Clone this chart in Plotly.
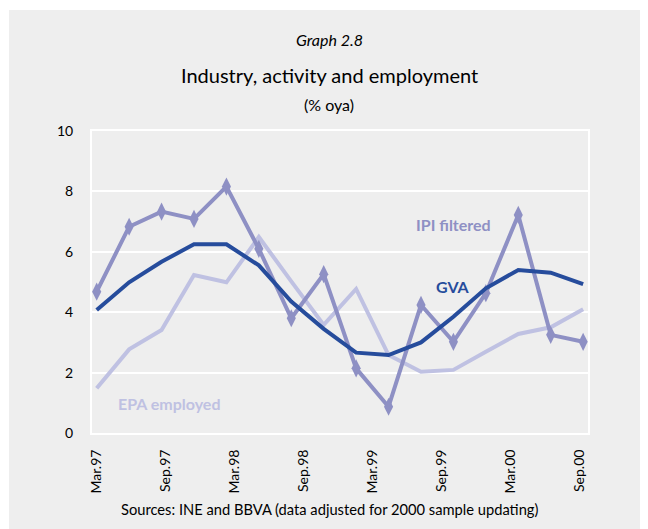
import plotly.graph_objects as go

quarters = ["Mar.97", "Jun.97", "Sep.97", "Dec.97", "Mar.98", "Jun.98", "Sep.98", "Dec.98",
            "Mar.99", "Jun.99", "Sep.99", "Dec.99", "Mar.00", "Jun.00", "Sep.00", "Dec.00"]
ipi_filtered = [4.68, 6.83, 7.33, 7.09, 8.16, 6.10, 3.80, 5.26, 2.14, 0.87, 4.24, 3.02, 4.63, 7.22, 3.25, 3.02]
gva = [4.07, 4.99, 5.67, 6.25, 6.25, 5.55, 4.35, 3.45, 2.66, 2.58, 3.00, 3.85, 4.79, 5.40, 5.31, 4.93]
epa_employed = [1.48, 2.77, 3.41, 5.23, 4.99, 6.49, 5.02, 3.58, 4.77, 2.58, 2.03, 2.09, 2.69, 3.28, 3.50, 4.10]
tick_labels = ["Mar.97", "Sep.97", "Mar.98", "Sep.98", "Mar.99", "Sep.99", "Mar.00", "Sep.00"]
y_ticks = [0, 2, 4, 6, 8, 10]

FONT = "Lato, 'Noto Sans', sans-serif"
C_IPI = "#8E90C4"
C_GVA = "#264C9C"
C_EPA = "#BFC1E2"
BG = "#EEEEEE"

x = list(range(len(quarters)))
step = (len(quarters) - 1.1) / (len(tick_labels) - 1)
tickvals = [i * step for i in range(len(tick_labels))]

fig = go.Figure()
fig.add_trace(go.Scatter(x=x, y=epa_employed, mode="lines", line=dict(color=C_EPA, width=4),
                         name="EPA employed", hovertext=quarters))
fig.add_trace(go.Scatter(x=x, y=ipi_filtered, mode="lines+markers", line=dict(color=C_IPI, width=4),
                         marker=dict(symbol="diamond-tall", size=13, color=C_IPI),
                         name="IPI filtered", hovertext=quarters))
fig.add_trace(go.Scatter(x=x, y=gva, mode="lines", line=dict(color=C_GVA, width=4),
                         name="GVA", hovertext=quarters))

# figure is placed at (8, 8) inside the page by the default body margin
W, H = 640, 521
L, R, T, B = 84, 60, 123, 96
pw, ph = W - L - R, H - T - B
OFF = 8


def px(xw):
    return (xw - OFF - L) / pw


def py(yw):
    return (H - B - (yw - OFF)) / ph


fig.add_shape(type="rect", xref="paper", yref="paper",
              x0=px(9), x1=px(OFF + W + 5), y0=py(OFF + H + 5), y1=py(10),
              fillcolor=BG, line=dict(width=0), layer="below")

fig.update_layout(
    width=W, height=H,
    margin=dict(l=L, r=R, t=T, b=B),
    paper_bgcolor="white", plot_bgcolor=BG,
    showlegend=False,
    font=dict(family=FONT, color="black", size=13),
    xaxis=dict(range=[-0.145, 15.15], tickvals=tickvals, ticktext=tick_labels, tickangle=-90,
               showgrid=False, zeroline=False, showline=True, linecolor="white", linewidth=2,
               mirror=True, ticks="", ticklabelstandoff=9,
               tickfont=dict(family=FONT, size=14, color="black")),
    yaxis=dict(range=[0, 10], tickvals=y_ticks, showgrid=True, gridcolor="white", gridwidth=2,
               zeroline=False, showline=True, linecolor="white", linewidth=2, mirror=True,
               ticks="", ticklabelstandoff=14,
               tickfont=dict(family=FONT, size=14, color="black")),
)

anns = [
    dict(text="<i>Graph 2.8</i>", x=px(329), y=py(40), size=16, color="black"),
    dict(text="Industry, activity and employment", x=px(329), y=py(75), size=20, color="black"),
    dict(text="(% oya)", x=px(329), y=py(104), size=16, color="black"),
    dict(text="Sources: INE and BBVA (data adjusted for 2000 sample updating)", x=px(329), y=py(509),
         size=14.7, color="black"),
]
for a in anns:
    fig.add_annotation(text=a["text"], x=a["x"], y=a["y"], xref="paper", yref="paper",
                       showarrow=False, xanchor="center", yanchor="middle",
                       font=dict(family=FONT, size=a["size"], color=a["color"]))

labels = [
    ("<b>IPI filtered</b>", 10.99, 6.92, C_IPI),
    ("<b>GVA</b>", 11.0, 4.84, C_GVA),
    ("<b>EPA employed</b>", 2.23, 0.98, C_EPA),
]
for t, lx, ly, c in labels:
    fig.add_annotation(text=t, x=lx, y=ly, xref="x", yref="y", showarrow=False,
                       xanchor="center", yanchor="middle",
                       font=dict(family=FONT, size=16, color=c))

fig.write_html("out.html")
